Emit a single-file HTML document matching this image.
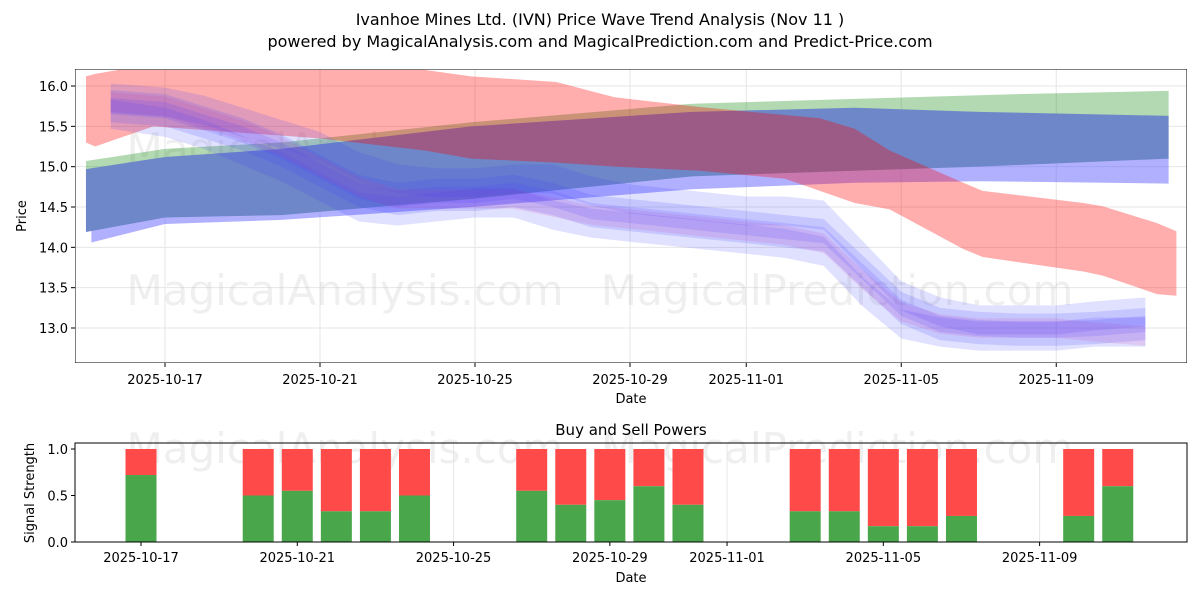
<!DOCTYPE html>
<html><head><meta charset="utf-8"><style>
body{margin:0;background:#fff;font-family:"Liberation Sans","DejaVu Sans",sans-serif}
svg text{font-family:"DejaVu Sans","Liberation Sans",sans-serif}
</style></head><body>
<svg id="c" width="1200" height="600" viewBox="0 0 1200 600">
<defs><clipPath id="plotClip"><rect x="75" y="69" width="1112" height="294"/></clipPath></defs>
<text x="600" y="25" text-anchor="middle" font-size="16">Ivanhoe Mines Ltd. (IVN) Price Wave Trend Analysis (Nov 11 )</text>
<text x="600" y="47" text-anchor="middle" font-size="16">powered by MagicalAnalysis.com and MagicalPrediction.com and Predict-Price.com</text>
<g id="topPanel"></g>
<g id="bandLayer" clip-path="url(#plotClip)"></g>
<g id="botPanel"></g>
</svg>
<script>
// ---- data ----
const tickDays=[0,4,8,12,15,19,23];
const tickLabels=["2025-10-17","2025-10-21","2025-10-25","2025-10-29","2025-11-01","2025-11-05","2025-11-09"];
const priceTicks=[13.0,13.5,14.0,14.5,15.0,15.5,16.0];
const greenDays=[-2.04,0,3,7.9,13.6,17.8,22,25.9];
const greenUp=[15.07,15.22,15.3,15.55,15.78,15.84,15.9,15.94];
const greenLo=[14.95,15.1,15.2,15.45,15.66,15.7,15.66,15.6];
const darkDays=[-2.04,0,3,7.9,13.6,17.8,21,25.9];
const darkUp=[14.97,15.12,15.22,15.5,15.68,15.73,15.68,15.63];
const darkLo=[14.19,14.37,14.4,14.6,14.88,14.95,15.0,15.1];
const lightDays=[-1.9,0,3,7.9,13.6,17.8,21,25.9];
const lightUp=[14.5,14.4,14.45,14.62,14.9,14.97,15.02,15.12];
const lightLo=[14.06,14.29,14.34,14.5,14.72,14.8,14.82,14.79];
const redDays=[-2.04,-1.8,-1.2,-0.3,4,6.7,7.9,10.1,11.6,13.8,16,16.9,17.8,18.7,20.6,21.1,23.7,24.2,25.6,26.1];
const redUp=[16.12,16.15,16.2,16.2,16.2,16.2,16.12,16.05,15.86,15.74,15.64,15.6,15.47,15.2,14.8,14.7,14.55,14.51,14.3,14.2];
const redLo=[15.3,15.25,15.35,15.5,15.35,15.2,15.1,15.05,15.0,14.95,14.85,14.7,14.55,14.47,13.98,13.88,13.7,13.65,13.42,13.4];
const waveDays=[-1.4,0,1,2,3,4,5,6,7,8,9,10,11,12,13,14,15,16,17,18,19,20,21,22,23,24,25.3];
const waveHi=[15.85,15.8,15.7,15.55,15.4,15.25,15.0,14.85,14.8,14.8,14.85,14.85,14.7,14.6,14.55,14.5,14.45,14.45,14.4,13.9,13.4,13.2,13.1,13.1,13.1,13.15,13.2];
const waveMid=[15.75,15.7,15.55,15.4,15.2,14.95,14.7,14.6,14.65,14.65,14.7,14.6,14.45,14.4,14.35,14.3,14.25,14.2,14.15,13.7,13.25,13.05,13.0,12.98,12.98,13.0,13.05];
const waveLo=[15.65,15.55,15.4,15.2,15.0,14.75,14.5,14.45,14.5,14.55,14.55,14.4,14.3,14.25,14.2,14.15,14.1,14.05,13.95,13.45,13.05,12.95,12.9,12.9,12.9,12.95,12.95];
const wavePink=[15.8,15.75,15.6,15.45,15.25,15.0,14.75,14.6,14.6,14.6,14.6,14.5,14.4,14.35,14.3,14.25,14.2,14.15,14.05,13.6,13.2,13.05,13.0,13.0,13.0,12.95,12.9];
const powerDays=[0,3,4,5,6,7,10,11,12,13,14,17,18,19,20,21,24,25];
const buyVals=[0.72,0.5,0.55,0.33,0.33,0.5,0.55,0.4,0.45,0.6,0.4,0.33,0.33,0.17,0.17,0.28,0.28,0.6];
const powerTicks=[0,0.5,1.0];
// ---- scales ----
const xT=d=>165+d*38.75, yT=p=>86+(16-p)*80.67;
const xB=d=>141+d*39.07, yB=v=>542-v*93;
const NS="http://www.w3.org/2000/svg";
function mk(tag,attrs,parent,txt){const e=document.createElementNS(NS,tag);for(const k in attrs)e.setAttribute(k,attrs[k]);if(txt!==undefined)e.textContent=txt;parent.appendChild(e);return e;}
const topG=document.getElementById('topPanel'), botG=document.getElementById('botPanel'), bandG=document.getElementById('bandLayer');
tickDays.forEach((d,i)=>{
  let g=mk('line',{x1:xT(d),x2:xT(d),y1:69,y2:363,stroke:'#e6e6e6'},topG);
  
  
  let t=mk('text',{x:xT(d),y:384,'text-anchor':'middle','font-size':13},topG,tickLabels[i]);
  
  
  mk('line',{x1:xT(d),x2:xT(d),y1:363,y2:367,stroke:'#000'},topG);
  let g2=mk('line',{x1:xB(d),x2:xB(d),y1:443,y2:542,stroke:'#e6e6e6'},botG);
  
  
  let t2=mk('text',{x:xB(d),y:562,'text-anchor':'middle','font-size':13},botG,tickLabels[i]);
  
  
  mk('line',{x1:xB(d),x2:xB(d),y1:542,y2:546,stroke:'#000'},botG);
});
priceTicks.forEach(p=>{
  let g=mk('line',{x1:75,x2:1187,y1:yT(p),y2:yT(p),stroke:'#e6e6e6'},topG);
  
  
  mk('line',{x1:71,x2:75,y1:yT(p),y2:yT(p),stroke:'#000'},topG);
  let t=mk('text',{x:68,y:yT(p)+5,'text-anchor':'end','font-size':13},topG,p.toFixed(1));
  
  
});
[[345,305,'MagicalAnalysis.com'],[837,305,'MagicalPrediction.com'],[345,163,'MagicalAnalysis.com'],[837,163,'MagicalPrediction.com'],[345,463,'MagicalAnalysis.com'],[837,463,'MagicalPrediction.com']].forEach(w=>{
  let t=mk('text',{x:w[0],y:w[1],'text-anchor':'middle','font-size':42,fill:'rgba(180,180,180,0.22)'},topG,w[2]);
  
  
});
function band(days,up,lo,fill,name){
  const pts=days.map((d,i)=>xT(d)+','+yT(up[i])).concat(days.map((d,i)=>xT(d)+','+yT(lo[i])).reverse());
  const p=mk('polygon',{points:pts.join(' '),fill:fill},bandG);
  
  
}
band(greenDays,greenUp,greenLo,'rgba(0,128,0,0.3)','green-trend-band');
band(lightDays,lightUp,lightLo,'rgba(80,80,255,0.45)','light-blue-trend-band');
band(darkDays,darkUp,darkLo,'rgb(110,135,200)','blue-trend-band');
band(redDays,redUp,redLo,'rgba(255,0,0,0.32)','red-trend-band');
[[waveHi,0.18,'rgba(60,60,255,0.16)'],[waveMid,0.2,'rgba(60,60,255,0.16)'],[waveLo,0.18,'rgba(60,60,255,0.16)'],[wavePink,0.12,'rgba(200,60,160,0.14)'],[waveMid,0.1,'rgba(80,60,255,0.16)']].forEach((w,i)=>{
  band(waveDays,w[0].map(v=>v+w[1]),w[0].map(v=>v-w[1]),w[2],'wave-band-'+(i+1));
});
mk('rect',{x:75,y:69,width:1112,height:294,fill:'none',stroke:'#000'},bandG);
let xl=mk('text',{x:631,y:403,'text-anchor':'middle','font-size':13},topG,'Date');


let yl=mk('text',{x:26,y:216,'text-anchor':'middle','font-size':13,transform:'rotate(-90 26 216)'},topG,'Price');


powerTicks.forEach(v=>{
  mk('line',{x1:71,x2:75,y1:yB(v),y2:yB(v),stroke:'#000'},botG);
  let t=mk('text',{x:68,y:yB(v)+5,'text-anchor':'end','font-size':13},botG,v.toFixed(1));
  
  
});
powerDays.forEach((d,i)=>{
  const x=xB(d)-15.5;
  let r=mk('rect',{x:x,y:yB(1),width:31,height:yB(buyVals[i])-yB(1),fill:'#ff4a4a'},botG);
  
  
  let g=mk('rect',{x:x,y:yB(buyVals[i]),width:31,height:yB(0)-yB(buyVals[i]),fill:'#4aa64a'},botG);
  
  
});
mk('rect',{x:75,y:443,width:1112,height:99,fill:'none',stroke:'#000'},botG);
let bt=mk('text',{x:631,y:435,'text-anchor':'middle','font-size':15},botG,'Buy and Sell Powers');


let bx=mk('text',{x:631,y:582,'text-anchor':'middle','font-size':13},botG,'Date');


let by=mk('text',{x:34,y:493,'text-anchor':'middle','font-size':13,transform:'rotate(-90 34 493)'},botG,'Signal Strength');


</script>
</body></html>
